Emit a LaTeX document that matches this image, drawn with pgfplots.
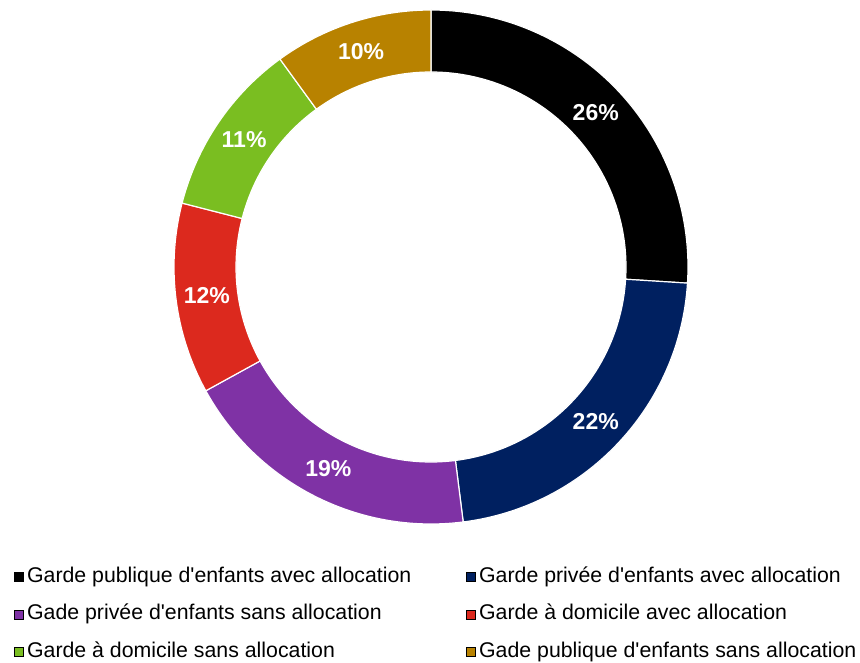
\documentclass[border=0pt]{standalone}
\usepackage{fontspec}
\setmainfont{Liberation Sans}[Ligatures=TeXOff]
\usepackage{pgfplots}
\pgfplotsset{compat=1.18}
\definecolor{cA}{RGB}{0,0,0}
\definecolor{cB}{RGB}{0,32,96}
\definecolor{cC}{RGB}{127,50,165}
\definecolor{cD}{RGB}{220,41,30}
\definecolor{cE}{RGB}{122,190,33}
\definecolor{cF}{RGB}{184,130,0}
\begin{document}
\begin{tikzpicture}
\useasboundingbox (0,0) rectangle (860pt,662pt);
\begin{axis}[
  scale only axis, width=860pt, height=662pt,
  xmin=0, xmax=860, ymin=0, ymax=662,
  hide axis,
  legend image code/.code={\fill[#1] (0pt,-4.5pt) rectangle (9pt,4.5pt);},
  legend columns=2,
  legend cell align=left,
  legend style={
    at={(axis cs:14,95)}, anchor=north west,
    draw=none, fill=none, inner sep=0pt,
    font=\fontsize{21.3}{25}\selectfont,
    nodes={inner sep=0pt, text height=15pt, text depth=4pt},
    row sep=18.5pt,
    /tikz/every odd column/.append style={column sep=3.5pt},
    /tikz/every even column/.append style={column sep=55pt},
  },
]
\pgfplotsextra{
  \xdef\start{90}
  \foreach \v/\c in {26/cA,22/cB,19/cC,12/cD,11/cE,10/cF}{
    \pgfmathsetmacro\en{\start-3.6*\v}
    \pgfmathsetmacro\mid{\start-1.8*\v}
    \fill[\c, draw=white, line width=1.2pt]
      (axis cs:431,395) ++(\start:257pt)
      arc[start angle=\start, end angle=\en, radius=257pt]
      -- ++(\en:-62pt)
      arc[start angle=\en, end angle=\start, radius=195pt] -- cycle;
    \path (axis cs:431,395) ++(\mid:226pt)
      node[white, font=\bfseries\fontsize{23}{23}\selectfont] {\v\%};
    \xdef\start{\en}
  }
}
\addlegendimage{fill=cA}\addlegendentry{Garde publique d'enfants avec allocation}
\addlegendimage{fill=cB}\addlegendentry{Garde privée d'enfants avec allocation}
\addlegendimage{fill=cC}\addlegendentry{Gade privée d'enfants sans allocation}
\addlegendimage{fill=cD}\addlegendentry{Garde à domicile avec allocation}
\addlegendimage{fill=cE}\addlegendentry{Garde à domicile sans allocation}
\addlegendimage{fill=cF}\addlegendentry{Gade publique d'enfants sans allocation}
\end{axis}
\end{tikzpicture}
\end{document}
